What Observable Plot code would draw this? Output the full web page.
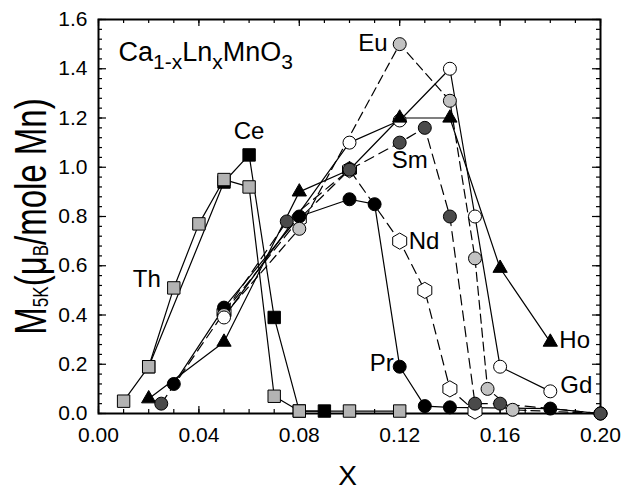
<!DOCTYPE html>
<html><head><meta charset="utf-8">
<script src="https://cdn.jsdelivr.net/npm/d3@7"></script>
<script src="https://cdn.jsdelivr.net/npm/@observablehq/plot@0.6"></script>
<style>
html,body{margin:0;padding:0;background:#fff;}
</style></head><body><div id="chart"></div>
<script>
// ---- data ----
const thX=[0.01,0.02,0.03,0.04,0.05,0.06,0.07,0.08,0.10,0.12];
const thY=[0.05,0.19,0.51,0.77,0.95,0.92,0.07,0.01,0.01,0.01];
const ceX=[0.02,0.05,0.06,0.07,0.08,0.09];
const ceY=[0.19,0.94,1.05,0.39,0.01,0.01];
const prX=[0.03,0.05,0.08,0.10,0.11,0.12,0.13,0.14,0.18,0.20];
const prY=[0.12,0.43,0.80,0.87,0.85,0.19,0.03,0.025,0.02,0.0];
const ndX=[0.05,0.08,0.10,0.12,0.13,0.14,0.15];
const ndY=[0.41,0.79,0.99,0.70,0.50,0.10,0.01];
const smX=[0.025,0.075,0.10,0.12,0.13,0.14,0.15,0.16,0.20];
const smY=[0.04,0.78,0.99,1.10,1.16,0.80,0.04,0.04,0.0];
const euX=[0.05,0.08,0.12,0.14,0.15,0.155,0.165,0.20];
const euY=[0.40,0.75,1.50,1.27,0.63,0.10,0.015,0.0];
const gdX=[0.05,0.10,0.12,0.14,0.15,0.16,0.18];
const gdY=[0.39,1.10,1.19,1.40,0.80,0.19,0.09];
const hoX=[0.02,0.05,0.08,0.10,0.12,0.14,0.16,0.18];
const hoY=[0.06,0.29,0.90,0.99,1.20,1.20,0.59,0.29];

const xTickLabels=["0.00","0.04","0.08","0.12","0.16","0.20"];
const yTickLabels=["0.0","0.2","0.4","0.6","0.8","1.0","1.2","1.4","1.6"];
const formulaText="Ca1-xLnxMnO3";
const yTitle="M5K(μB/mole Mn)";
const xTitle="X";

// ---- layout ----
const W=623,H=492,ML=98,MR=23,MT=19,MB=79;
const PW=W-ML-MR, PH=H-MT-MB;

const series=[
  {name:"Ce",xs:ceX,ys:ceY,symbol:"square",r:7,fill:"#000",dash:null},
  {name:"Th",xs:thX,ys:thY,symbol:"square",r:7,fill:"#b3b3b3",dash:null},
  {name:"Nd",xs:ndX,ys:ndY,symbol:"hexagon",r:7,fill:"#fff",dash:"10,6"},
  {name:"Pr",xs:prX,ys:prY,symbol:"circle",r:6.5,fill:"#000",dash:null},
  {name:"Eu",xs:euX,ys:euY,symbol:"circle",r:6.5,fill:"#c2c2c2",dash:"9,5"},
  {name:"Gd",xs:gdX,ys:gdY,symbol:"circle",r:6.5,fill:"#fff",dash:null},
  {name:"Ho",xs:hoX,ys:hoY,symbol:"triangle",r:5.3,fill:"#000",dash:null},
  {name:"Sm",xs:smX,ys:smY,symbol:"circle",r:6.5,fill:"#4a4a4a",dash:"10,6"}
];
const rows=s=>s.xs.map((x,i)=>({x,y:s.ys[i]}));

const xMajor=xTickLabels.map(Number);
const yMajor=yTickLabels.map(Number);
const xMinor=d3.range(0,21).map(i=>i/100);
const yMinor=d3.range(0,41).map(i=>i*0.04);

const tickStyle={stroke:"#000",strokeWidth:1.2};
const marks=[
  Plot.frame({stroke:"#000",strokeWidth:2}),
  // inner ticks on all four sides
  Plot.tickX(xMinor,{x:d=>d,insetTop:PH-4,...tickStyle}),
  Plot.tickX(xMajor,{x:d=>d,insetTop:PH-7,...tickStyle}),
  Plot.tickX(xMinor,{x:d=>d,insetBottom:PH-4,...tickStyle}),
  Plot.tickX(xMajor,{x:d=>d,insetBottom:PH-7,...tickStyle}),
  Plot.tickY(yMinor,{y:d=>d,insetRight:PW-4,...tickStyle}),
  Plot.tickY(yMajor,{y:d=>d,insetRight:PW-8,...tickStyle}),
  Plot.tickY(yMinor,{y:d=>d,insetLeft:PW-4,...tickStyle}),
  Plot.tickY(yMajor,{y:d=>d,insetLeft:PW-8,...tickStyle}),
  Plot.axisX({ticks:xMajor,tickFormat:(d,i)=>xTickLabels[i],tickSize:0,tickPadding:14,fontSize:21,label:null}),
  Plot.axisY({ticks:yMajor,tickFormat:(d,i)=>yTickLabels[i],tickSize:0,tickPadding:11,fontSize:21,label:null}),
];
for(const s of series){
  marks.push(Plot.line(rows(s),{x:"x",y:"y",stroke:"#000",strokeWidth:1.2,strokeDasharray:s.dash||undefined}));
}
for(const s of series){
  marks.push(Plot.dot(rows(s),{x:"x",y:"y",symbol:s.symbol,r:s.r,fill:s.fill,stroke:"#000",strokeWidth:1}));
}
// series labels, anchored at a point of their series
const lab=(t,xs,ys,i,o)=>Plot.text([t],{x:[xs[i]],y:[ys[i]],text:d=>d,fontSize:24,fill:"#000",...o});
marks.push(
  lab("Th",thX,thY,2,{dx:-13,dy:-9,textAnchor:"end"}),
  lab("Ce",ceX,ceY,2,{dy:-24}),
  lab("Eu",euX,euY,2,{dx:-12,dy:-1,textAnchor:"end"}),
  lab("Sm",smX,smY,3,{dx:-8,dy:18,textAnchor:"start"}),
  lab("Nd",ndX,ndY,3,{dx:9,dy:0,textAnchor:"start"}),
  lab("Pr",prX,prY,5,{dx:-6,dy:-3,textAnchor:"end"}),
  lab("Ho",hoX,hoY,7,{dx:9,dy:-2,textAnchor:"start"}),
  lab("Gd",gdX,gdY,6,{dx:10,dy:-6,textAnchor:"start"}),
  Plot.text([formulaText],{frameAnchor:"top-left",text:d=>d,textAnchor:"start",lineAnchor:"bottom",dx:20,dy:41,fontSize:27,fill:"#000"}),
  Plot.text([yTitle],{frameAnchor:"left",text:d=>d,textAnchor:"middle",lineAnchor:"bottom",rotate:-90,dx:-53,fontSize:33,fill:"#000"}),
  Plot.text([xTitle],{frameAnchor:"bottom",text:d=>d,textAnchor:"middle",lineAnchor:"top",dx:-2,dy:52,fontSize:28,fill:"#000"})
);

const plot=Plot.plot({
  width:W,height:H,marginLeft:ML,marginRight:MR,marginTop:MT,marginBottom:MB,
  x:{domain:[0,0.2]},y:{domain:[0,1.6]},
  style:{fontFamily:"'Liberation Sans', Arial, sans-serif",fontSize:"21px",background:"#fff",color:"#000",overflow:"visible"},
  marks
});

// rich text (subscripts)
const NS="http://www.w3.org/2000/svg";
function rich(t,parts,subSize,shift){
  t.textContent="";
  let cur=0;
  for(const [s,sub] of parts){
    const ts=document.createElementNS(NS,"tspan");
    ts.textContent=s;
    const target=sub?shift:0;
    if(target!==cur){ts.setAttribute("dy",target-cur);cur=target;}
    if(sub) ts.setAttribute("font-size",subSize);
    t.appendChild(ts);
  }
}
plot.querySelectorAll("text").forEach(t=>{
  if(t.textContent===formulaText){
    rich(t,[["Ca"],["1-x",1],["Ln"],["x",1],["MnO"],["3",1]],21,8);
  } else if(t.textContent===yTitle){
    rich(t,[["M"],["5K",1],["(μ"],["B",1],["/mole Mn)"]],17,2);
    t.setAttribute("transform",(t.getAttribute("transform")||"")+" scale(1,1.35)");
  }
});
document.getElementById("chart").appendChild(plot);
</script></body></html>
